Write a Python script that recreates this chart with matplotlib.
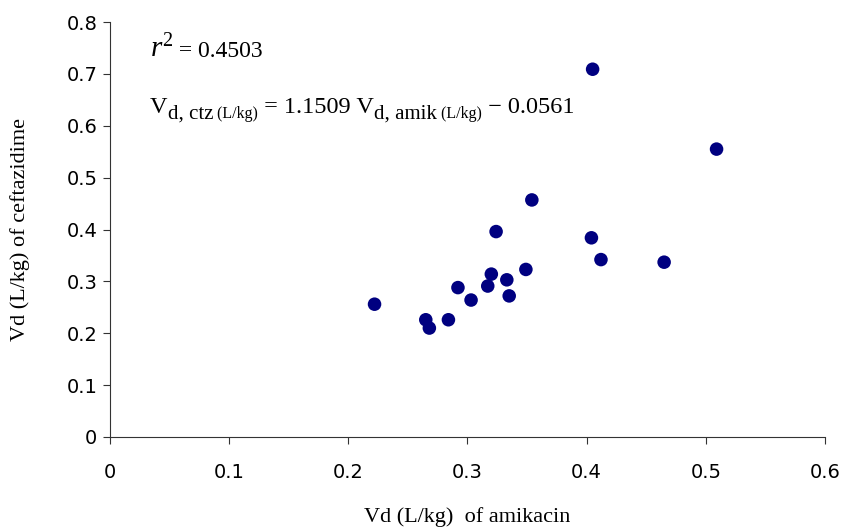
import matplotlib
matplotlib.use("Agg")
import matplotlib.pyplot as plt

# Vd values (L/kg)
vd_amikacin = [0.222, 0.265, 0.268, 0.284, 0.292, 0.303, 0.317, 0.320, 0.324,
               0.333, 0.335, 0.349, 0.354, 0.404, 0.405, 0.412, 0.465, 0.509]
vd_ceftazidime = [0.256, 0.226, 0.210, 0.226, 0.288, 0.264, 0.291, 0.314, 0.396,
                  0.303, 0.272, 0.323, 0.457, 0.384, 0.709, 0.342, 0.337, 0.555]

x_ticks = [0, 0.1, 0.2, 0.3, 0.4, 0.5, 0.6]
y_ticks = [0, 0.1, 0.2, 0.3, 0.4, 0.5, 0.6, 0.7, 0.8]

plt.rcParams['mathtext.fontset'] = 'custom'
plt.rcParams['mathtext.rm'] = 'Liberation Serif'
plt.rcParams['mathtext.it'] = 'Liberation Serif:italic'

serif = 'Liberation Serif'
sans = 'DejaVu Sans'

fig = plt.figure(figsize=(8.44, 5.32), dpi=100)
ax = fig.add_axes([0.1303, 0.1786, 0.8472, 0.78])

ax.scatter(vd_amikacin, vd_ceftazidime, s=95, color='#000080', edgecolors='none', zorder=3)

ax.set_xlim(0, 0.6)
ax.set_ylim(0, 0.8)
ax.set_xticks(x_ticks)
ax.set_yticks(y_ticks)
ax.set_xticklabels([f"{t:g}" for t in x_ticks], fontsize=14, family=sans)
ax.set_yticklabels([f"{t:g}" for t in y_ticks], fontsize=14, family=sans)
ax.tick_params(direction='out', length=5, width=0.8, color='#333333')
ax.tick_params(axis='x', pad=14)
ax.tick_params(axis='y', pad=4)
for side in ('top', 'right'):
    ax.spines[side].set_visible(False)
for side in ('left', 'bottom'):
    ax.spines[side].set_color('#333333')
    ax.spines[side].set_linewidth(0.8)

ax.set_xlabel('Vd (L/kg)  of amikacin', fontsize=16, family=serif, labelpad=18)
ax.set_ylabel('Vd (L/kg) of ceftazidime', fontsize=16, family=serif, labelpad=26)

# r^2 annotation
t = ax.text(0.056, 0.916, r'$\mathit{r}^{2}$', transform=ax.transAxes,
            fontsize=21, va='baseline', ha='left')
ax.annotate(' = 0.4503', xy=(1, 0.916), xycoords=(t, 'axes fraction'),
            fontsize=17, family=serif, va='baseline', ha='left')

# regression equation built from pieces (main text, subscripts, unit subscripts)
pieces = [('V', 17.5, 0), ('d, ctz', 15, -4), (' (L/kg)', 11.5, -4),
          (' = 1.1509 V', 17.5, 0), ('d, amik', 15, -4), (' (L/kg)', 11.5, -4),
          (' \u2212 0.0561', 17.5, 0)]
prev = None
for txt, size, dy in pieces:
    if prev is None:
        prev = ax.text(0.056, 0.781, txt, transform=ax.transAxes,
                       fontsize=size, family=serif, va='baseline', ha='left')
    else:
        prev = ax.annotate(txt, xy=(1, 0.781), xycoords=(prev, 'axes fraction'),
                           xytext=(0, dy), textcoords='offset points',
                           fontsize=size, family=serif, va='baseline', ha='left')

fig.savefig('out.png', dpi=100)
